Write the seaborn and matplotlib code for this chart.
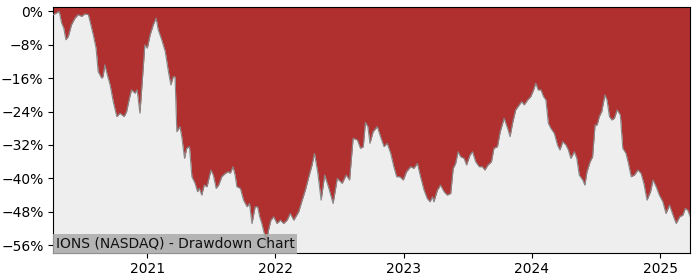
import matplotlib
matplotlib.use("Agg")
import matplotlib.pyplot as plt
import matplotlib.dates as mdates
import matplotlib.ticker as mticker
import numpy as np
import pandas as pd
import seaborn as sns

# ---- data ----
start_date = "2021-01-01"
day_offsets = [
    -268, -259, -251, -244, -238, -232, -225, -216, -206, -197, -187, -178, -168, -162, -154, -146,
    -140, -130, -126, -121, -114, -106, -97, -87, -78, -66, -59, -51, -45, -35, -29, -21, -11, -7,
    0, 8, 17, 25, 31, 41, 51, 60, 67, 74, 79, 84, 93, 98, 106, 112, 120, 127, 136, 143, 148, 155,
    162, 170, 181, 188, 196, 203, 212, 222, 231, 236, 244, 250, 255, 265, 274, 284, 291, 298, 307,
    314, 320, 326, 333, 339, 345, 352, 360, 369, 379, 388, 398, 407, 417, 431, 441, 450, 459, 469,
    476, 485, 495, 505, 517, 529, 541, 555, 566, 576, 586, 598, 607, 615, 621, 628, 634, 643, 655,
    664, 674, 683, 693, 702, 710, 719, 729, 738, 750, 759, 769, 778, 788, 797, 805, 812, 816, 826,
    835, 845, 854, 864, 871, 878, 885, 892, 902, 909, 919, 926, 935, 945, 954, 961, 970, 980, 987,
    997, 1005, 1016, 1026, 1033, 1040, 1049, 1059, 1066, 1073, 1083, 1092, 1100, 1106, 1113, 1121,
    1128, 1135, 1142, 1149, 1159, 1168, 1175, 1183, 1192, 1199, 1206, 1216, 1223, 1230, 1240, 1246,
    1252, 1261, 1268, 1275, 1281, 1287, 1294, 1303, 1309, 1316, 1323, 1330, 1338, 1347, 1354, 1363,
    1370, 1378, 1387, 1397, 1406, 1414, 1423, 1433, 1440, 1449, 1458, 1468, 1477, 1487, 1497, 1506,
    1516, 1525, 1532, 1539, 1546,
]
drawdown_pct = [
    -0.8, -0.4, 0.0, -2.8, -4.0, -6.8, -6.0, -3.2, -1.6, -0.8, -1.2, -0.6, -0.8, -2.8, -5.6, -8.8,
    -14.4, -16.0, -15.6, -12.8, -15.2, -17.6, -21.6, -25.2, -24.4, -25.2, -24.0, -20.8, -18.8, -19.6,
    -18.8, -24.4, -12.8, -8.0,
    -8.8, -5.6, -3.2, -1.6, -4.4, -6.8, -9.6, -14.4, -17.6, -15.6, -15.7, -28.8, -27.6, -30.0, -35.2,
    -32.8, -32.4, -39.6, -41.2, -43.2, -42.4, -44.0,
    -41.6, -42.0, -38.0, -39.2, -42.4, -41.6, -39.6, -38.8, -38.4, -38.8, -37.2, -39.2, -42.0, -42.4,
    -45.2, -46.8, -46.0, -50.8, -46.8,
    -46.8, -49.2, -50.8, -53.2, -55.6, -52.4, -50.0, -49.2, -50.8, -50.0, -50.8, -50.0, -48.4, -50.0,
    -48.0, -45.2, -42.8, -39.9, -36.8,
    -34.0, -38.4, -45.2, -39.2, -42.4, -46.0, -40.0, -41.2, -39.2, -40.4, -30.4, -30.8, -32.8, -32.4,
    -26.6, -27.6, -31.6, -28.8, -27.6,
    -30.0, -32.4, -31.6, -34.0, -37.2, -39.6, -39.6, -40.4, -38.4, -37.2, -37.6, -36.4, -39.6, -42.8,
    -44.8, -45.6, -44.4, -45.6, -42.8,
    -41.6, -43.2, -44.0, -43.6, -37.6, -36.4, -33.6, -34.8, -35.2, -36.8, -34.4, -33.6, -36.0, -37.2,
    -37.2, -38.0, -36.8, -36.0, -32.8,
    -32.4, -28.8, -25.6, -28.0, -30.0, -26.8, -23.6, -22.4, -21.6, -22.4, -21.2, -20.4, -18.8, -17.2,
    -18.8, -18.8,
    -20.4, -21.2, -26.8, -28.0, -29.2, -32.0, -33.2, -31.2, -32.0, -33.2, -35.2, -33.6, -35.2, -39.2,
    -40.4, -41.6,
    -38.4, -36.0, -34.8, -27.2, -27.2, -25.2, -24.0, -20.0, -21.2, -25.2, -26.0, -25.6, -23.6, -24.8,
    -32.8, -34.0,
    -36.4, -39.6, -39.2, -38.0, -38.8, -41.2, -45.2, -43.2, -40.4, -42.0, -44.0, -45.6, -48.4, -46.4,
    -48.8, -50.8,
    -49.2, -48.8, -47.2, -47.6, -49.2,
]
y_ticks = [0, -8, -16, -24, -32, -40, -48, -56]
title_text = "IONS (NASDAQ) - Drawdown Chart"

# ---- build frame ----
dates = pd.Timestamp(start_date) + pd.to_timedelta(day_offsets, unit="D")
df = pd.DataFrame({"date": dates, "drawdown": drawdown_pct})

fig = plt.figure(figsize=(7, 2.8), dpi=100)
ax = fig.add_axes([0.076, 0.0975, 0.91, 0.8775])
ax.set_facecolor("#EEEEEE")

ymin, ymax = -57.8, 1.05
ax.fill_between(df["date"], df["drawdown"], ymax, color="#B03030", linewidth=0, zorder=2)
sns.lineplot(data=df, x="date", y="drawdown", ax=ax, color="#888888", linewidth=0.8, zorder=3)

ax.set_ylim(ymin, ymax)
ax.set_xlim(df["date"].iloc[0], df["date"].iloc[-1])
ax.set_yticks(y_ticks)
ax.yaxis.set_major_formatter(mticker.PercentFormatter(decimals=0))
ax.xaxis.set_major_locator(mdates.YearLocator())
ax.xaxis.set_major_formatter(mdates.DateFormatter("%Y"))
ax.set_xlabel("")
ax.set_ylabel("")
ax.tick_params(labelsize=10)

ax.text(0.004, 0.008, title_text, transform=ax.transAxes, fontsize=10, ha="left", va="bottom",
        color="#111111", zorder=5,
        bbox=dict(facecolor="#AAAAAA", edgecolor="none", alpha=0.85, pad=2))

fig.savefig("out.png", dpi=100)
